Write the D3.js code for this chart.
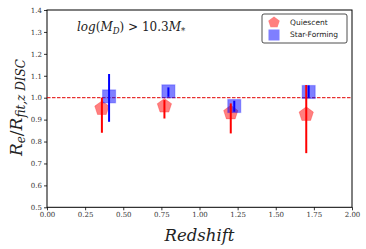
<!DOCTYPE html>
<html>
<head>
<meta charset="utf-8">
<script src="https://cdn.jsdelivr.net/npm/d3@7"></script>
<style>
  body { margin: 0; background: #fff; }
  svg { display: block; }
</style>
</head>
<body>
<script>
// data
var quiescent = [
  { z: 0.36, v: 0.951, lo: 0.840, hi: 1.000 },
  { z: 0.77, v: 0.962, lo: 0.905, hi: 0.989 },
  { z: 1.205, v: 0.931, lo: 0.837, hi: 0.974 },
  { z: 1.70, v: 0.924, lo: 0.747, hi: 1.058 }
];
var starForming = [
  { z: 0.407, v: 1.006, lo: 0.890, hi: 1.108 },
  { z: 0.796, v: 1.029, lo: 1.004, hi: 1.047 },
  { z: 1.228, v: 0.962, lo: 0.936, hi: 0.986 },
  { z: 1.716, v: 1.026, lo: 1.000, hi: 1.056 }
];
var xTicks = [0, 0.25, 0.5, 0.75, 1.0, 1.25, 1.5, 1.75, 2.0];
var yTicks = [0.5, 0.6, 0.7, 0.8, 0.9, 1.0, 1.1, 1.2, 1.3, 1.4];
var legendNames = ["Quiescent", "Star-Forming"];

var W = 366, H = 249;
var margin = { left: 47, right: 14, top: 10, bottom: 42 };

var svg = d3.select("body").append("svg")
  .attr("width", W).attr("height", H);

var x = d3.scaleLinear().domain([0, 2]).range([margin.left, W - margin.right]);
var y = d3.scaleLinear().domain([0.5, 1.4]).range([H - margin.bottom + 0.3, margin.top]);

var serif = "'DejaVu Serif', serif";

// axes
var xAxis = svg.append("g")
  .attr("transform", "translate(0," + y(0.5) + ")")
  .call(d3.axisBottom(x).tickValues(xTicks).tickSize(3).tickPadding(2)
    .tickFormat(d3.format(".2f")));
var yAxis = svg.append("g")
  .attr("transform", "translate(" + x(0) + ",0)")
  .call(d3.axisLeft(y).tickValues(yTicks).tickSize(3).tickPadding(2)
    .tickFormat(d3.format(".1f")));

[xAxis, yAxis].forEach(function (g) {
  g.select(".domain").remove();
  g.selectAll("line").attr("stroke", "#000").attr("stroke-width", 0.8);
  g.selectAll("text")
    .attr("fill", "#333")
    .style("font-family", serif)
    .style("font-size", "7px");
});

// frame
svg.append("rect")
  .attr("x", x(0)).attr("y", y(1.4))
  .attr("width", x(2) - x(0)).attr("height", y(0.5) - y(1.4))
  .attr("fill", "none").attr("stroke", "#000").attr("stroke-width", 1);

// reference line
svg.append("line")
  .attr("x1", x(0)).attr("x2", x(2))
  .attr("y1", y(1)).attr("y2", y(1))
  .attr("stroke", "#e00000").attr("stroke-width", 1)
  .attr("stroke-dasharray", "3.5,1.5");

function pentPath(r) {
  var pts = [];
  for (var i = 0; i < 5; i++) {
    var a = -Math.PI / 2 + i * 2 * Math.PI / 5;
    pts.push([r * Math.cos(a), r * Math.sin(a)]);
  }
  return "M" + pts.map(function (p) { return p.join(","); }).join("L") + "Z";
}

// quiescent markers
svg.selectAll(".q-mark").data(quiescent).enter().append("path")
  .attr("class", "q-mark")
  .attr("d", pentPath(7.5))
  .attr("transform", function (d) { return "translate(" + x(d.z) + "," + y(d.v) + ")"; })
  .attr("fill", "#ff0000").attr("fill-opacity", 0.5)
  .attr("stroke", "#ff0000").attr("stroke-opacity", 0.25).attr("stroke-width", 1);

// star-forming markers
svg.selectAll(".s-mark").data(starForming).enter().append("rect")
  .attr("class", "s-mark")
  .attr("x", function (d) { return x(d.z) - 6.5; })
  .attr("y", function (d) { return y(d.v) - 6.5; })
  .attr("width", 13).attr("height", 13)
  .attr("fill", "#0000ff").attr("fill-opacity", 0.5)
  .attr("stroke", "#0000ff").attr("stroke-opacity", 0.25).attr("stroke-width", 1.2);

// error bars
svg.selectAll(".q-err").data(quiescent).enter().append("line")
  .attr("class", "q-err")
  .attr("x1", function (d) { return x(d.z); }).attr("x2", function (d) { return x(d.z); })
  .attr("y1", function (d) { return y(d.lo); }).attr("y2", function (d) { return y(d.hi); })
  .attr("stroke", "#ff0000").attr("stroke-width", 2);

svg.selectAll(".s-err").data(starForming).enter().append("line")
  .attr("class", "s-err")
  .attr("x1", function (d) { return x(d.z); }).attr("x2", function (d) { return x(d.z); })
  .attr("y1", function (d) { return y(d.lo); }).attr("y2", function (d) { return y(d.hi); })
  .attr("stroke", "#0000ff").attr("stroke-width", 2);

// annotation
var ann = svg.append("text")
  .attr("x", 77).attr("y", 31)
  .style("font-family", serif).style("font-size", "12px").attr("fill", "#222");
ann.append("tspan").style("font-style", "italic").text("log");
ann.append("tspan").text("(");
ann.append("tspan").style("font-style", "italic").text("M");
ann.append("tspan").style("font-style", "italic").style("font-size", "8.5px").attr("dy", 2.5).text("D");
ann.append("tspan").attr("dy", -2.5).text(") > 10.3");
ann.append("tspan").style("font-style", "italic").text("M");
ann.append("tspan").style("font-size", "8.5px").attr("dy", 2.5).text("*");

// legend
var lg = svg.append("g").attr("transform", "translate(262,14)");
lg.append("rect").attr("width", 85).attr("height", 29).attr("rx", 2)
  .attr("fill", "#fff").attr("stroke", "#222").attr("stroke-width", 0.8);
lg.append("path").attr("d", pentPath(6))
  .attr("transform", "translate(12,8.5)")
  .attr("fill", "#ff0000").attr("fill-opacity", 0.5);
lg.append("rect").attr("x", 6.5).attr("y", 15.5).attr("width", 11).attr("height", 11)
  .attr("fill", "#0000ff").attr("fill-opacity", 0.5);
lg.selectAll(".lt").data(legendNames).enter().append("text")
  .attr("class", "lt")
  .attr("x", 28).attr("y", function (d, i) { return 10.5 + i * 12.5; })
  .style("font-family", "'DejaVu Sans', sans-serif").style("font-size", "7.5px")
  .attr("fill", "#222")
  .text(function (d) { return d; });

// axis labels
svg.append("text")
  .attr("x", (x(0) + x(2)) / 2).attr("y", 241)
  .attr("text-anchor", "middle")
  .style("font-family", serif).style("font-size", "16.5px").style("font-style", "italic")
  .attr("fill", "#222")
  .text("Redshift");

var yl = svg.append("text")
  .attr("transform", "translate(22," + y(0.955) + ") rotate(-90)")
  .attr("text-anchor", "middle")
  .style("font-family", serif).style("font-size", "17px").attr("fill", "#222");
yl.append("tspan").style("font-style", "italic").text("R");
yl.append("tspan").style("font-style", "italic").style("font-size", "12px").attr("dy", 3).text("e");
yl.append("tspan").attr("dy", -3).text("/");
yl.append("tspan").style("font-style", "italic").text("R");
yl.append("tspan").style("font-style", "italic").style("font-size", "12px").attr("dy", 3).text("fit,z  DISC");
</script>
</body>
</html>
